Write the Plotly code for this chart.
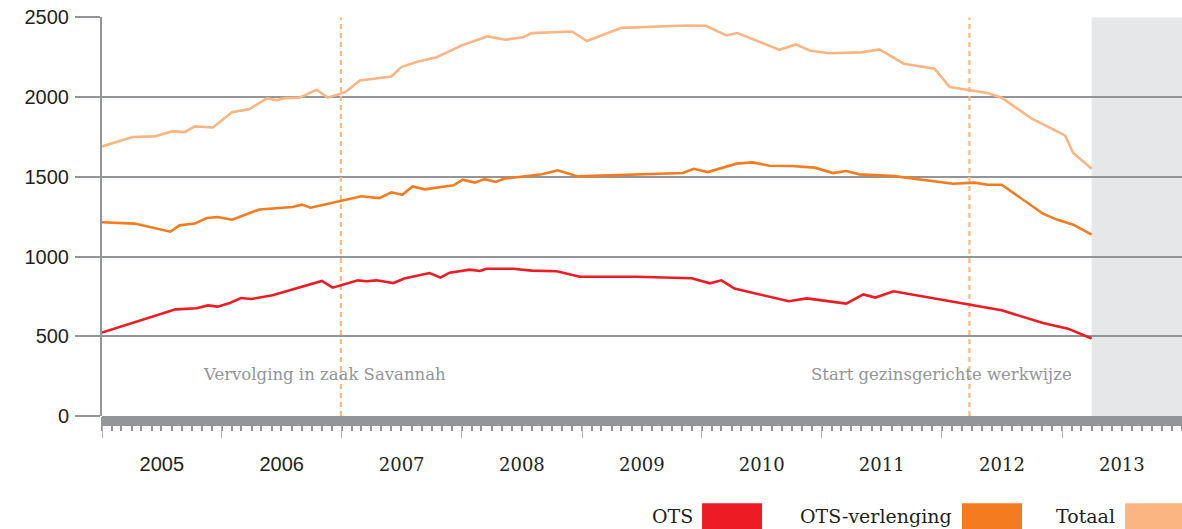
import plotly.graph_objects as go

# ---------------- data ----------------
tot_dates = ["2005-01-01", "2005-04-04", "2005-06-10", "2005-08-04", "2005-09-10", "2005-10-10",
             "2005-12-04", "2006-02-01", "2006-03-25", "2006-05-19", "2006-06-16", "2006-07-10",
             "2006-08-25", "2006-10-16", "2006-11-19", "2007-01-10", "2007-02-25", "2007-06-01",
             "2007-07-01", "2007-08-16", "2007-10-16", "2008-01-01", "2008-03-19", "2008-05-13",
             "2008-07-07", "2008-08-01", "2008-12-01", "2009-01-16", "2009-05-01", "2009-11-16",
             "2010-01-13", "2010-03-16", "2010-04-19", "2010-08-25", "2010-10-13", "2010-11-25",
             "2011-01-22", "2011-05-01", "2011-06-25", "2011-09-07", "2011-12-10", "2012-01-25",
             "2012-05-19", "2012-07-01", "2012-10-01", "2013-01-10", "2013-02-04", "2013-04-01"]
tot_vals = [1691, 1750, 1754, 1787, 1781, 1817,
            1810, 1906, 1925, 1994, 1980, 1994,
            1997, 2047, 1997, 2030, 2105, 2130,
            2189, 2220, 2251, 2325, 2381, 2360,
            2377, 2402, 2412, 2352, 2435, 2450,
            2448, 2387, 2402, 2297, 2331, 2293,
            2276, 2281, 2300, 2210, 2178, 2063,
            2026, 1997, 1865, 1760, 1650, 1551]

verl_dates = ["2005-01-01", "2005-04-10", "2005-07-28", "2005-08-25", "2005-10-10", "2005-11-16",
              "2005-12-19", "2006-02-01", "2006-04-25", "2006-08-04", "2006-09-01", "2006-09-28",
              "2007-03-01", "2007-04-25", "2007-06-01", "2007-07-04", "2007-08-04", "2007-09-10",
              "2007-12-07", "2008-01-04", "2008-02-10", "2008-03-10", "2008-04-13", "2008-05-10",
              "2008-09-01", "2008-10-19", "2008-12-19", "2009-11-04", "2009-12-07", "2010-01-19",
              "2010-04-16", "2010-06-04", "2010-07-25", "2010-10-01", "2010-12-10", "2011-02-04",
              "2011-03-16", "2011-04-25", "2011-08-10", "2011-12-04", "2012-02-04", "2012-04-10",
              "2012-05-19", "2012-07-01", "2012-11-04", "2012-12-16", "2013-02-04", "2013-04-01"]
verl_vals = [1215, 1207, 1156, 1196, 1207, 1242,
             1248, 1231, 1296, 1311, 1326, 1307,
             1378, 1367, 1403, 1388, 1440, 1422,
             1447, 1482, 1464, 1486, 1468, 1489,
             1516, 1541, 1503, 1524, 1551, 1530,
             1583, 1591, 1570, 1568, 1558, 1524,
             1537, 1516, 1505, 1472, 1457, 1464,
             1451, 1451, 1269, 1232, 1200, 1138]

ots_dates = ["2005-01-01", "2005-08-13", "2005-10-16", "2005-11-19", "2005-12-19", "2006-01-25",
             "2006-02-28", "2006-04-01", "2006-06-04", "2006-11-01", "2006-12-04", "2007-02-19",
             "2007-03-16", "2007-04-16", "2007-06-07", "2007-07-10", "2007-09-25", "2007-10-28",
             "2007-11-25", "2008-01-25", "2008-02-25", "2008-03-16", "2008-06-04", "2008-08-01",
             "2008-10-16", "2008-12-25", "2009-06-16", "2009-12-01", "2010-01-25", "2010-03-01",
             "2010-04-10", "2010-09-22", "2010-11-16", "2011-03-16", "2011-05-07", "2011-06-13",
             "2011-08-07", "2012-07-01", "2012-11-04", "2013-01-19", "2013-04-01"]
ots_vals = [523, 669, 676, 694, 686, 709,
            740, 734, 757, 847, 805, 851,
            845, 851, 834, 862, 897, 868,
            899, 918, 910, 924, 924, 912,
            908, 874, 874, 864, 832, 851,
            799, 720, 738, 705, 763, 743,
            782, 663, 583, 548, 486]

years = [2005, 2006, 2007, 2008, 2009, 2010, 2011, 2012, 2013]
serif_years = [2007, 2008, 2009, 2010, 2011, 2012, 2013]
y_ticks = [0, 500, 1000, 1500, 2000, 2500]
y_max = 2500

event_dates = ["2006-12-29", "2012-03-25"]
event_labels = ["Vervolging in zaak Savannah", "Start gezinsgerichte werkwijze"]
event_label_dates = ["2006-11-10", "2012-01-01"]
event_label_y = 262

forecast_start = "2013-04-01"
x_start, x_end = "2005-01-01", "2014-01-01"

series_names = ["OTS", "OTS-verlenging", "Totaal"]
series_colors = ["#ED1C24", "#F47B20", "#FBB583"]

# ---------------- figure ----------------
GRAY = "#939598"
SERIF = "DejaVu Serif"
SANS = "Liberation Sans, Arial, sans-serif"

fig = go.Figure()
for name, d, v in [("Totaal", tot_dates, tot_vals),
                   ("OTS-verlenging", verl_dates, verl_vals),
                   ("OTS", ots_dates, ots_vals)]:
    col = series_colors[series_names.index(name)]
    fig.add_trace(go.Scatter(x=d, y=v, mode="lines", name=name,
                             line=dict(color=col, width=2.6), hoverinfo="x+y+name"))
# empty trace so the secondary (year-boundary tick) axis is rendered
fig.add_trace(go.Scatter(x=[x_start, x_end], y=[None, None], xaxis="x2", mode="lines",
                         showlegend=False, hoverinfo="skip"))

label_dates = [f"{y}-07-02" for y in years]
label_text = [(f'<span style="font-family:{SERIF}; font-size:18px">{y}</span>' if y in serif_years else str(y))
              for y in years]

PLOT_H = 399.25
shapes = []
# forecast shading
shapes.append(dict(type="rect", xref="x", yref="y", x0=forecast_start, x1=x_end, y0=0, y1=y_max,
                   fillcolor="#E6E7E8", line=dict(width=0), layer="below"))
# event lines
for ed in event_dates:
    shapes.append(dict(type="line", xref="x", yref="y", x0=ed, x1=ed, y0=0, y1=y_max,
                       line=dict(color="#FDBA86", width=2.2, dash="5px,4px"), layer="between"))
# thick baseline band
band_h = 10 / PLOT_H
shapes.append(dict(type="rect", xref="paper", yref="paper", x0=0, x1=1, y0=-band_h, y1=0,
                   fillcolor=GRAY, line=dict(width=0), layer="above"))

annotations = []
for lbl, ld in zip(event_labels, event_label_dates):
    annotations.append(dict(x=ld, y=event_label_y, xref="x", yref="y", text=lbl, showarrow=False,
                            xanchor="center", yanchor="middle",
                            font=dict(family=SERIF, size=16.5, color=GRAY)))

# legend (text followed by colour box)
leg_text_right = [0.5491, 0.7889, 0.9398]
leg_box_left = [0.5556, 0.7963, 0.9472]
box_w = 60 / 1080
for name, col, tr, bl in zip(series_names, series_colors, leg_text_right, leg_box_left):
    shapes.append(dict(type="rect", xref="paper", yref="paper", x0=bl, x1=bl + box_w,
                       y0=-0.2850, y1=-0.2188, fillcolor=col, line=dict(width=0)))
    annotations.append(dict(x=tr, y=-0.2514, xref="paper", yref="paper", text=name, showarrow=False,
                            xanchor="right", yanchor="middle",
                            font=dict(family=SERIF, size=19, color="#231F20")))

fig.update_layout(
    width=1182, height=529,
    margin=dict(l=102, r=0, t=16.5, b=113.25, autoexpand=False),
    paper_bgcolor="white", plot_bgcolor="white",
    showlegend=False,
    font=dict(family=SANS, size=20, color="#231F20"),
    xaxis=dict(type="date", range=[x_start, x_end], automargin=False,
               tickmode="array", tickvals=label_dates, ticktext=label_text, ticks="",
               ticklabelstandoff=34, ticklabeloverflow="allow",
               tickfont=dict(family=SANS, size=20, color="#231F20"),
               showgrid=False, zeroline=False, showline=False,
               minor=dict(ticks="outside", tickmode="linear", tick0=x_start, dtick="M1",
                          ticklen=14, tickwidth=2, tickcolor=GRAY, showgrid=False)),
    xaxis2=dict(type="date", overlaying="x", anchor="y", side="bottom", range=[x_start, x_end],
                automargin=False, tickmode="linear", tick0=x_start, dtick="M12",
                ticks="outside", ticklen=21, tickwidth=1, tickcolor="#B1B3B6",
                showticklabels=False, showgrid=False, zeroline=False, showline=False),
    yaxis=dict(range=[0, y_max + 3], automargin=False, tickmode="array", tickvals=y_ticks,
               ticks="outside", ticklen=25, ticklabeloverflow="allow",
               tickwidth=2, tickcolor=GRAY, showline=True, linewidth=2, linecolor=GRAY,
               showgrid=True, gridcolor=GRAY, gridwidth=2, zeroline=False, ticklabelstandoff=2,
               tickfont=dict(family=SANS, size=20, color="#231F20")),
    shapes=shapes, annotations=annotations,
)

# remove the browser's default 8px body margin so the figure fills the window exactly
fig.write_html("out.html", config={"displayModeBar": False},
               post_script="document.body.style.margin='0';")
